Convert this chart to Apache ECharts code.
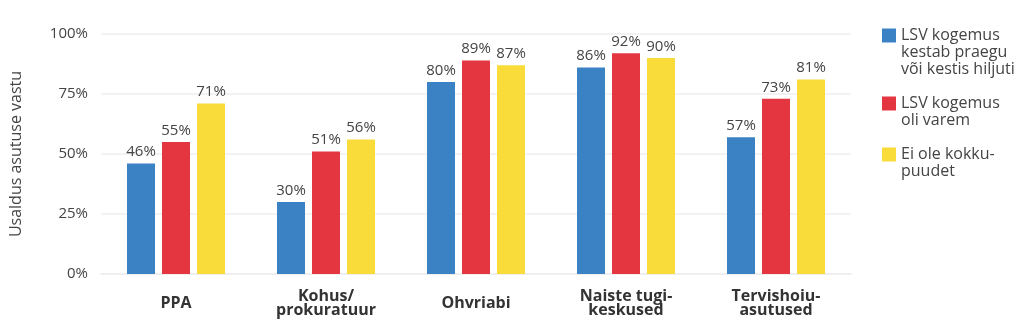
<!DOCTYPE html>
<html>
<head>
<meta charset="utf-8">
<script src="https://cdn.jsdelivr.net/npm/echarts@6/dist/echarts.min.js"></script>
<style>
html,body{margin:0;padding:0;background:#fff;}
#chart{width:1024px;height:335px;}
</style>
</head>
<body>
<div id="chart"></div>
<script>
var categories = ['PPA', 'Kohus/\nprokuratuur', 'Ohvriabi', 'Naiste tugi-\nkeskused', 'Tervishoiu-\nasutused'];
var seriesNames = ['LSV kogemus\nkestab praegu\nvõi kestis hiljuti', 'LSV kogemus\noli varem', 'Ei ole kokku-\npuudet'];
var ongoing = [46, 30, 80, 86, 57];
var earlier = [55, 51, 89, 92, 73];
var never = [71, 56, 87, 90, 81];
var yTicks = [0, 25, 50, 75, 100];
var colors = ['#3b82c4', '#e43640', '#f9dc3a'];
var FONT = '"Open Sans", sans-serif';

var chart = echarts.init(document.getElementById('chart'), null, {renderer: 'canvas'});

function mkSeries(name, data, color) {
  return {
    name: name,
    type: 'bar',
    data: data,
    barWidth: 28,
    barGap: '25%',
    itemStyle: {color: color},
    label: {
      show: true,
      position: 'top',
      distance: 4,
      formatter: '{c}%',
      color: '#444',
      fontSize: 15,
      fontFamily: FONT
    }
  };
}

// Prepend empty lines so that the legend icon lines up with the first text line
function legendText(name) {
  var n = name.split('\n').length;
  var pad = '';
  for (var i = 1; i < n; i++) pad += '\n';
  return pad + name;
}

var option = {
  animation: false,
  backgroundColor: '#fff',
  grid: {left: 95, right: 173, top: 34, bottom: 61},
  legend: {
    orient: 'vertical',
    left: 877,
    top: -12,
    itemWidth: 14,
    itemHeight: 14,
    itemGap: 0,
    icon: 'rect',
    data: seriesNames,
    formatter: legendText,
    textStyle: {color: '#444', fontSize: 16, lineHeight: 17, fontFamily: FONT}
  },
  xAxis: {
    type: 'category',
    data: categories,
    axisLine: {show: true, lineStyle: {color: '#eeeeee', width: 1.5}},
    axisTick: {show: false},
    axisLabel: {
      interval: 0,
      margin: 29,
      verticalAlign: 'middle',
      color: '#333',
      fontSize: 16,
      fontWeight: 'bold',
      lineHeight: 14,
      fontFamily: FONT
    }
  },
  yAxis: {
    type: 'value',
    min: yTicks[0],
    max: yTicks[yTicks.length - 1],
    interval: 25,
    name: 'Usaldus asutuse vastu',
    nameLocation: 'middle',
    nameGap: 77,
    nameTextStyle: {color: '#444', fontSize: 16, fontFamily: FONT},
    axisLine: {show: false},
    axisTick: {show: false},
    axisLabel: {formatter: '{value}%', color: '#444', fontSize: 15, margin: 13, fontFamily: FONT},
    splitLine: {lineStyle: {color: '#eeeeee', width: 1.5}}
  },
  series: [
    mkSeries(seriesNames[0], ongoing, colors[0]),
    mkSeries(seriesNames[1], earlier, colors[1]),
    mkSeries(seriesNames[2], never, colors[2])
  ]
};
chart.setOption(option);
</script>
</body>
</html>
